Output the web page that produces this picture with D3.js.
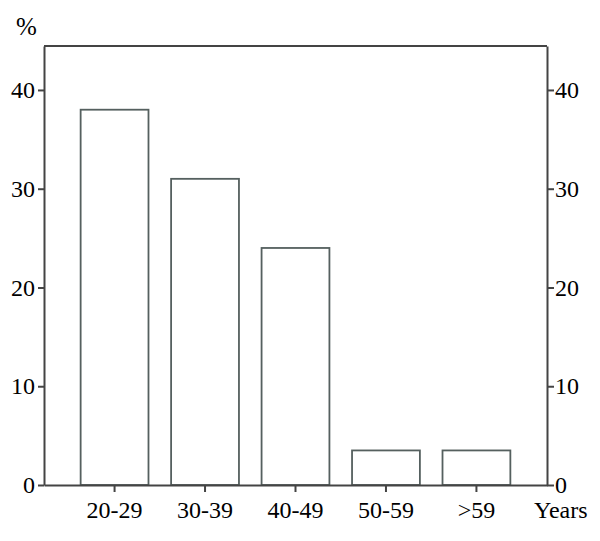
<!DOCTYPE html>
<html>
<head>
<meta charset="utf-8">
<title>Age groups</title>
<script src="https://d3js.org/d3.v7.min.js"></script>
<style>
  body { margin: 0; background: #fff; }
  svg text { font-family: "Liberation Serif", "Times New Roman", serif; fill: #000; }
</style>
</head>
<body>
<div id="chart"></div>
<script>
// values
const groups = ["20-29", "30-39", "40-49", "50-59", ">59"];
const percents = [38, 31, 24, 3.5, 3.5];
const yTicks = [0, 10, 20, 30, 40];

const w = 600, h = 541;
const plotLeft = 44, plotRight = 547, plotTop = 46, plotBottom = 485;
const lineColor = "#444";
const fontSize = "24px";

const svg = d3.select("#chart").append("svg")
    .attr("width", w)
    .attr("height", h);

const x = d3.scaleBand()
    .domain(groups)
    .range([plotLeft, plotRight])
    .paddingInner(0.25)
    .paddingOuter(0.405);

const y = d3.scaleLinear()
    .domain([0, 44.45])
    .range([plotBottom, plotTop]);

// bars
svg.selectAll("rect.bar")
   .data(groups)
   .enter()
   .append("rect")
   .attr("class", "bar")
   .attr("x", d => x(d))
   .attr("y", (d, i) => y(percents[i]))
   .attr("width", x.bandwidth())
   .attr("height", (d, i) => y(0) - y(percents[i]))
   .style("fill", "#fff")
   .style("stroke", "#55605f")
   .style("stroke-width", 1.8);

// y axes, left and right
const yLeft = svg.append("g")
   .attr("transform", `translate(${plotLeft},0)`)
   .call(d3.axisLeft(y).tickValues(yTicks).tickSize(6).tickPadding(3).tickSizeOuter(0));
const yRight = svg.append("g")
   .attr("transform", `translate(${plotRight},0)`)
   .call(d3.axisRight(y).tickValues(yTicks).tickSize(7).tickPadding(1).tickSizeOuter(0));

// x axis
const xAxis = svg.append("g")
   .attr("transform", `translate(0,${plotBottom})`)
   .call(d3.axisBottom(x).tickSize(7).tickPadding(9).tickSizeOuter(0));

[yLeft, yRight, xAxis].forEach(g => {
    g.attr("font-family", null).attr("font-size", null);
    g.selectAll("path, line").style("stroke", lineColor).style("stroke-width", 2);
    g.selectAll("text").style("font-size", fontSize).style("fill", "#000");
});

// top frame line
svg.append("line")
   .attr("x1", plotLeft).attr("x2", plotRight)
   .attr("y1", y.range()[1]).attr("y2", y.range()[1])
   .style("stroke", lineColor)
   .style("stroke-width", 2);

svg.append("text")
   .attr("x", 16)
   .attr("y", 35)
   .style("font-size", "25px")
   .text("%");

svg.append("text")
   .attr("x", 534)
   .attr("y", 518)
   .style("font-size", fontSize)
   .text("Years");
</script>
</body>
</html>
